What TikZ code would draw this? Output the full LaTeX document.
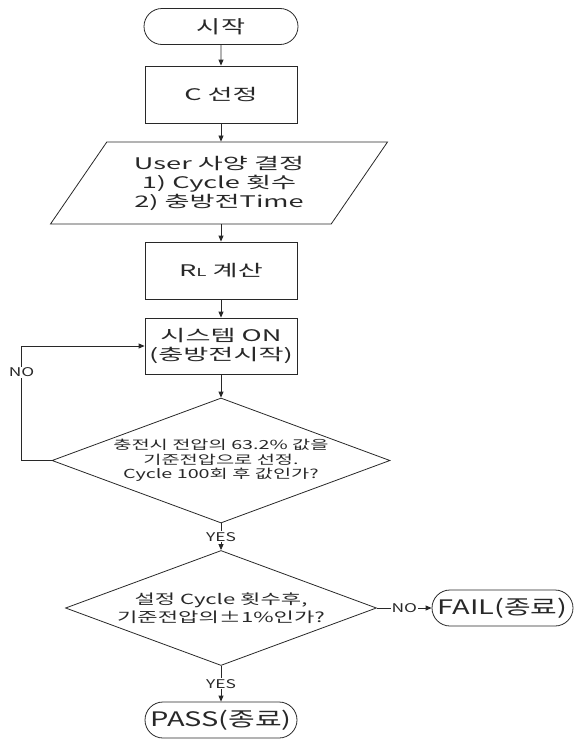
\documentclass[tikz,border=0pt]{standalone}
\usepackage{fontspec}
\setmainfont{Noto Sans CJK KR}[FakeStretch=1.45]
\newfontfamily\boxfont{Noto Sans CJK KR}[FakeStretch=1.7]
\newfontfamily\decfont{Noto Sans CJK KR}[FakeStretch=1.58]
\usetikzlibrary{arrows.meta,shapes.geometric,shapes.misc}
\definecolor{ink}{RGB}{40,40,40}

\begin{document}
\begin{tikzpicture}[x=1pt,y=-1pt,line width=0.8pt,color=ink,
  >={Triangle[length=6pt,width=5pt]},
  proc/.style={draw,rectangle,minimum width=152pt,minimum height=57pt,
    inner sep=0pt,align=center,font=\boxfont\fontsize{16}{19}\selectfont},
  term/.style={draw,rounded rectangle,minimum height=36pt,inner sep=0pt,
    font=\fontsize{20}{24}\selectfont},
  io/.style={draw,trapezium,trapezium left angle=44,trapezium right angle=136,
    trapezium stretches body=true,minimum width=337pt,minimum height=82pt,
    inner sep=0pt,align=center,font=\boxfont\fontsize{16}{19}\selectfont},
  decide/.style={draw,diamond,aspect=2.7,inner sep=0pt,align=center},
  lbl/.style={fill=white,inner sep=1pt,font=\fontsize{12}{14}\selectfont}]
\useasboundingbox (0,0) rectangle (576,739);
% main column
\node[term,minimum width=154pt,font=\fontsize{18}{22}\selectfont] (start) at (221,26.5) {시작};
\node[proc] (csel) at (221,94.5) {C 선정};
\node[io] (user) at (219,183) {User 사양 결정\\1) Cycle 횟수\\2) 충방전Time};
\node[proc] (rl) at (221,270.5) {R{\fontsize{11}{13}\selectfont L} 계산};
\node[proc,minimum height=56pt] (sys) at (221,346) {시스템 ON\\(충방전시작)};
% decisions
\node[decide,minimum width=338pt,minimum height=125pt,
  font=\decfont\fontsize{12.5}{14.5}\selectfont] (chk) at (221,460.5)
  {충전시 전압의 63.2\% 값을\\기준전압으로 선정.\\Cycle 100회 후 값인가?};
\node[decide,minimum width=311pt,minimum height=115pt,
  font=\decfont\fontsize{14}{18}\selectfont] (cyc) at (221,608)
  {설정 Cycle 횟수후,\\기준전압의±1\%인가?};
% ends
\node[term,minimum width=141pt] (fail) at (502.5,608) {FAIL(종료)};
\node[term,minimum width=152pt] (pass) at (221,720) {PASS(종료)};
% arrows
\draw[->] (start) -- (csel);
\draw[->] (csel) -- (csel |- user.north);
\draw[->] (user.south -| csel) -- (rl);
\draw[->] (rl) -- (sys);
\draw[->] (sys) -- (chk);
\draw[->] (chk.west) -- ++(-30,0) |- node[lbl,pos=0.385]{NO} (sys.west);
\draw[->] (chk.south) -- node[lbl]{YES} (cyc.north);
\draw[->] (cyc.east) -- node[lbl]{NO} (fail.west);
\draw[->] (cyc.south) -- node[lbl]{YES} (pass.north);
\end{tikzpicture}
\end{document}
